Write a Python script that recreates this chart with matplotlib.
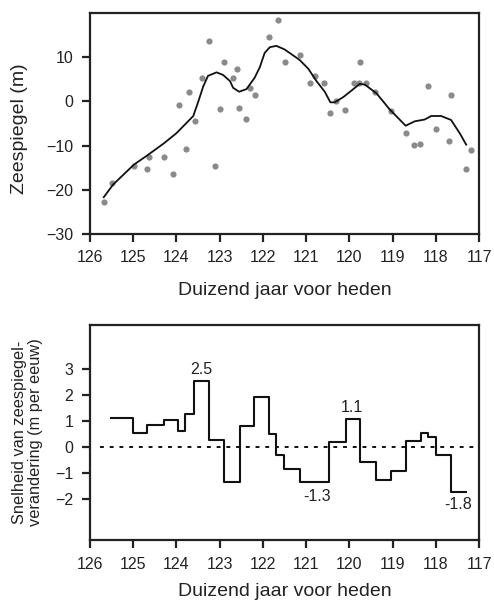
import numpy as np
import matplotlib.pyplot as plt

plt.rcParams['font.family'] = ['Liberation Sans', 'DejaVu Sans']
plt.rcParams['text.color'] = '#222222'
plt.rcParams['axes.labelcolor'] = '#222222'
plt.rcParams['xtick.color'] = '#222222'
plt.rcParams['ytick.color'] = '#222222'

# Meetpunten zeespiegel (duizend jaar voor heden, m)
punt_jaar = [125.68, 125.50, 124.98, 124.67, 124.64, 124.29, 124.09, 123.94, 123.77, 123.70,
             123.58, 123.40, 123.24, 123.10, 123.00, 122.90, 122.70, 122.60, 122.55, 122.39,
             122.29, 122.19, 121.85, 121.66, 121.50, 121.15, 120.90, 120.80, 120.58, 120.45,
             120.30, 120.11, 119.90, 119.78, 119.75, 119.61, 119.41, 119.04, 118.70, 118.50,
             118.36, 118.18, 118.00, 117.70, 117.66, 117.31, 117.20]
punt_zee = [-22.8, -18.6, -14.6, -15.4, -12.5, -12.5, -16.4, -0.8, -10.8, 2.2,
            -4.5, 5.4, 13.8, -14.6, -1.8, 9.0, 5.4, 7.4, -1.5, -3.9,
            3.1, 1.4, 14.5, 18.5, 8.9, 10.6, 4.2, 5.7, 4.2, -2.7,
            0.0, -2.0, 4.2, 4.2, 9.0, 4.2, 2.2, -2.2, -7.1, -9.9,
            -9.6, 3.4, -6.2, -8.9, 1.5, -15.2, -10.9]

# Afgevlakte curve
curve_jaar = [125.68, 125.46, 124.98, 124.67, 124.29, 124.00, 123.61, 123.50, 123.38, 123.27,
              123.07, 122.92, 122.76, 122.69, 122.55, 122.38, 122.19, 122.07, 121.96, 121.84,
              121.69, 121.50, 121.15, 120.95, 120.76, 120.57, 120.44, 120.34, 120.14, 119.91,
              119.76, 119.64, 119.37, 119.07, 118.70, 118.49, 118.26, 118.11, 117.88, 117.65,
              117.45, 117.30]
curve_zee = [-21.7, -18.8, -14.3, -12.2, -9.5, -7.2, -3.3, -0.2, 3.4, 5.8,
             6.6, 6.0, 4.6, 3.1, 2.2, 2.8, 5.4, 7.8, 11.0, 12.3,
             12.6, 11.8, 9.4, 7.4, 4.6, 2.2, -0.2, -0.2, 1.0, 2.8,
             4.0, 3.8, 1.8, -1.8, -5.5, -4.5, -4.1, -3.3, -3.3, -4.2,
             -7.2, -9.8]

# Snelheid van zeespiegelverandering (m per eeuw), trapfunctie
stap_grens = [125.52, 125.00, 124.67, 124.29, 123.96, 123.79, 123.59, 123.25, 122.90, 122.53,
              122.21, 121.86, 121.69, 121.52, 121.15, 120.47, 120.09, 119.76, 119.39, 119.04,
              118.70, 118.35, 118.18, 118.00, 117.66, 117.31]
stap_snelheid = [1.1, 0.52, 0.85, 1.03, 0.62, 1.26, 2.55, 0.24, -1.37, 0.8,
                 1.92, 0.49, -0.32, -0.88, -1.35, 0.19, 1.07, -0.58, -1.3, -0.95,
                 0.23, 0.53, 0.39, -0.31, -1.75]

labels_tekst = ['2.5', '1.1', '-1.3', '-1.8']
labels_x = [123.42, 119.94, 120.75, 117.49]
labels_y = [2.96, 1.52, -1.93, -2.23]

xticks = list(range(126, 116, -1))

fig = plt.figure(figsize=(4.94, 6.01), dpi=100)
ax1 = fig.add_axes([0.182, 0.611, 0.788, 0.367])
ax2 = fig.add_axes([0.182, 0.1015, 0.788, 0.358])

for ax in (ax1, ax2):
    for sp in ax.spines.values():
        sp.set_linewidth(1.6)
        sp.set_color('#222222')
    ax.set_xlim(126, 117)
    ax.set_xticks(xticks)
    ax.tick_params(direction='out', length=6, width=1.6, labelsize=11.5, pad=6)

ax1.set_xlabel('Duizend jaar voor heden', fontsize=14, labelpad=12)
ax2.set_xlabel('Duizend jaar voor heden', fontsize=14, labelpad=8)

# bovenste paneel
ax1.scatter(punt_jaar, punt_zee, s=20, color='#8a8a8a', zorder=2, linewidths=0)
ax1.plot(curve_jaar, curve_zee, color='#111111', lw=1.3, zorder=3)
ax1.set_ylim(-30, 20)
ax1.set_yticks([-30, -20, -10, 0, 10])
ax1.set_ylabel('Zeespiegel (m)', fontsize=14, va='center')
ax1.yaxis.set_label_coords(-0.18, 0.475)

# onderste paneel
ax2.axhline(0, color='#111111', lw=1.4, ls=(0, (2, 3)), xmin=0.025, xmax=1.0)
ax2.step(stap_grens, stap_snelheid + [stap_snelheid[-1]], where='post', color='#111111', lw=1.5)
for t, x, y in zip(labels_tekst, labels_x, labels_y):
    ax2.text(x, y, t, ha='center', va='center', fontsize=11.5)
ax2.set_ylim(-3.6, 4.7)
ax2.set_yticks([-2, -1, 0, 1, 2, 3])
ax2.set_ylabel('Snelheid van zeespiegel-\nverandering (m per eeuw)', fontsize=11.8,
               va='center', linespacing=1.05)
ax2.yaxis.set_label_coords(-0.16, 0.5)

fig.savefig('out.png', dpi=100)
